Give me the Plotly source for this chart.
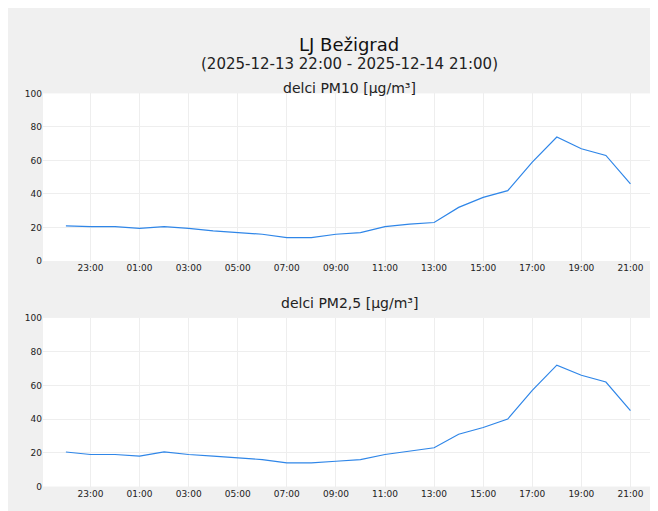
import pandas as pd
import plotly.graph_objects as go
from plotly.subplots import make_subplots

times = pd.date_range("2025-12-13 22:00", "2025-12-14 21:00", freq="h")
pm10 = [21, 20.5, 20.5, 19.5, 20.5, 19.5, 18, 17, 16, 14, 14, 16, 17, 20.5, 22, 23,
        32, 38, 42, 59, 74, 67, 63, 46]
pm25 = [20.5, 19, 19, 18, 20.5, 19, 18, 17, 16, 14, 14, 15, 16, 19, 21, 23,
        31, 35, 40, 57, 72, 66, 62, 45]
tick_times = pd.date_range("2025-12-13 23:00", "2025-12-14 21:00", freq="2h")
H = 511

fig = make_subplots(rows=2, cols=1)
for i, vals in enumerate([pm10, pm25], start=1):
    fig.add_trace(go.Scatter(x=times, y=vals, mode="lines",
                             line=dict(color="#2f86e8", width=1.2),
                             showlegend=False), row=i, col=1)
    fig.update_xaxes(range=["2025-12-13 21:04", "2025-12-14 22:00"],
                     tickvals=list(tick_times),
                     ticktext=[t.strftime("%H:%M") for t in tick_times],
                     gridcolor="#eeeeee", showline=False,
                     ticks="", tickfont=dict(size=9), row=i, col=1)
    fig.update_yaxes(range=[0, 100], dtick=20, gridcolor="#eeeeee",
                     zeroline=False, tickfont=dict(size=9), row=i, col=1)

fig.update_layout(
    yaxis=dict(domain=[1 - 253 / H, 1 - 82 / H]),
    yaxis2=dict(domain=[1 - 483 / H, 1 - 311 / H]),
)
for text, ypx in [("delci PM10 [µg/m³]", 66), ("delci PM2,5 [µg/m³]", 296)]:
    fig.add_annotation(text=text, x=0.5, xref="paper", y=1 - ypx / H, yref="paper",
                       showarrow=False, font=dict(size=14, color="#222"))
fig.add_annotation(text="LJ Bežigrad", x=0.5, xref="paper", y=1 - 19 / H, yref="paper",
                   showarrow=False, font=dict(size=18, color="#111"))
fig.add_annotation(text="(2025-12-13 22:00 - 2025-12-14 21:00)", x=0.5, xref="paper",
                   y=1 - 41 / H, yref="paper", showarrow=False,
                   font=dict(size=15, color="#222"))

fig.update_layout(
    width=658, height=H,
    font=dict(family="DejaVu Sans", color="#222"),
    paper_bgcolor="#f0f0f0", plot_bgcolor="white",
    margin=dict(l=35, r=11, t=0, b=0),
)
fig.write_html("out.html")
